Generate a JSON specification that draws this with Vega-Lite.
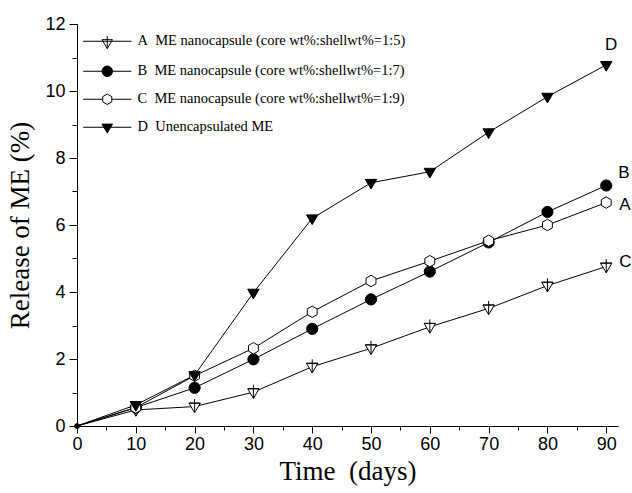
{
  "$schema": "https://vega.github.io/schema/vega-lite/v6.json",
  "width": 541,
  "height": 402,
  "autosize": "none",
  "padding": {"left": 77, "top": 24, "right": 14, "bottom": 67},
  "background": "white",
  "config": {"view": {"stroke": null}},
  "data": {"values": [
    {"series": "A", "day": 0, "value": 0},
    {"series": "A", "day": 10, "value": 0.48},
    {"series": "A", "day": 20, "value": 0.58},
    {"series": "A", "day": 30, "value": 1.01},
    {"series": "A", "day": 40, "value": 1.77},
    {"series": "A", "day": 50, "value": 2.32},
    {"series": "A", "day": 60, "value": 2.96},
    {"series": "A", "day": 70, "value": 3.51},
    {"series": "A", "day": 80, "value": 4.19},
    {"series": "A", "day": 90, "value": 4.76},
    {"series": "B", "day": 0, "value": 0},
    {"series": "B", "day": 10, "value": 0.55},
    {"series": "B", "day": 20, "value": 1.14},
    {"series": "B", "day": 30, "value": 1.99},
    {"series": "B", "day": 40, "value": 2.9},
    {"series": "B", "day": 50, "value": 3.78},
    {"series": "B", "day": 60, "value": 4.61},
    {"series": "B", "day": 70, "value": 5.48},
    {"series": "B", "day": 80, "value": 6.39},
    {"series": "B", "day": 90, "value": 7.18},
    {"series": "C", "day": 0, "value": 0},
    {"series": "C", "day": 10, "value": 0.55},
    {"series": "C", "day": 20, "value": 1.5},
    {"series": "C", "day": 30, "value": 2.32},
    {"series": "C", "day": 40, "value": 3.41},
    {"series": "C", "day": 50, "value": 4.33},
    {"series": "C", "day": 60, "value": 4.92},
    {"series": "C", "day": 70, "value": 5.53},
    {"series": "C", "day": 80, "value": 6.0},
    {"series": "C", "day": 90, "value": 6.67},
    {"series": "D", "day": 0, "value": 0},
    {"series": "D", "day": 10, "value": 0.63},
    {"series": "D", "day": 20, "value": 1.52},
    {"series": "D", "day": 30, "value": 3.98},
    {"series": "D", "day": 40, "value": 6.2},
    {"series": "D", "day": 50, "value": 7.26},
    {"series": "D", "day": 60, "value": 7.59},
    {"series": "D", "day": 70, "value": 8.77},
    {"series": "D", "day": 80, "value": 9.83},
    {"series": "D", "day": 90, "value": 10.78}
  ]},
  "encoding": {
    "x": {
      "field": "day", "type": "quantitative",
      "scale": {"domain": [0, 92], "nice": false, "zero": false},
      "axis": {
        "title": "Time\u00a0 (days)",
        "titleFont": "Liberation Serif", "titleFontSize": 27, "titleFontWeight": "normal", "titleColor": "black", "titlePadding": 5,
        "values": [0,5,10,15,20,25,30,35,40,45,50,55,60,65,70,75,80,85,90],
        "labelExpr": "datum.value % 10 === 0 ? datum.label : ''",
        "labelFont": "Liberation Sans", "labelFontSize": 18, "labelColor": "black", "labelPadding": 2, "labelFlush": false, "labelOverlap": false,
        "tickSize": {"condition": {"test": "datum.value % 10 === 0", "value": 7}, "value": 4},
        "tickColor": "black", "domainColor": "black", "grid": false
      }
    },
    "y": {
      "field": "value", "type": "quantitative",
      "scale": {"domain": [0, 12], "nice": false},
      "axis": {
        "title": "Release of ME (%)",
        "titleFont": "Liberation Serif", "titleFontSize": 27, "titleFontWeight": "normal", "titleColor": "black", "titlePadding": 10,
        "values": [0,1,2,3,4,5,6,7,8,9,10,11,12],
        "labelExpr": "datum.value % 2 === 0 ? datum.label : ''",
        "labelFont": "Liberation Sans", "labelFontSize": 18, "labelColor": "black", "labelPadding": 4, "labelFlush": false, "labelOverlap": false,
        "tickSize": {"condition": {"test": "datum.value % 2 === 0", "value": 8}, "value": 5},
        "tickColor": "black", "domainColor": "black", "grid": false
      }
    }
  },
  "layer": [
    {
      "mark": {"type": "line", "color": "black", "strokeWidth": 1},
      "encoding": {"detail": {"field": "series"}}
    },
    {
      "transform": [{"filter": "datum.day === 0"}],
      "mark": {"type": "circle", "color": "black", "size": 25, "opacity": 1}
    },
    {
      "transform": [{"filter": "datum.day > 0 && datum.series === 'A'"}],
      "mark": {"type": "point", "shape": "M-1,-0.6L1,-0.6L0,1.1Z M0,1.1V-1.3 M-1,-0.6H1", "filled": true, "fill": "white", "stroke": "black", "strokeWidth": 1, "size": 130, "opacity": 1}
    },
    {
      "transform": [{"filter": "datum.day > 0 && datum.series === 'B'"}],
      "mark": {"type": "point", "shape": "circle", "filled": true, "fill": "black", "stroke": "black", "strokeWidth": 1, "size": 125, "opacity": 1}
    },
    {
      "transform": [{"filter": "datum.day > 0 && datum.series === 'C'"}],
      "mark": {"type": "point", "shape": "M0,-1L0.866,-0.5L0.866,0.5L0,1L-0.866,0.5L-0.866,-0.5Z", "filled": true, "fill": "white", "stroke": "black", "strokeWidth": 1, "size": 130, "opacity": 1}
    },
    {
      "transform": [{"filter": "datum.day > 0 && datum.series === 'D'"}],
      "mark": {"type": "point", "shape": "M-1,-0.6L1,-0.6L0,1.1Z", "filled": true, "fill": "black", "stroke": "black", "strokeWidth": 1, "size": 130, "opacity": 1}
    },
    {
      "transform": [{"filter": "false"}],
      "mark": {"type": "point", "filled": true, "strokeWidth": 1, "size": 110, "opacity": 1},
      "encoding": {
        "shape": {
          "field": "series", "type": "nominal",
          "scale": {
            "domain": ["A", "B", "C", "D"],
            "range": [
              "M-4.6,0H4.6 M-1,-0.3L1,-0.3L0,1.4Z M0,1.4V-1",
              "M-4.6,0H-1 A1,1 0 1,0 1,0 A1,1 0 1,0 -1,0 M1,0H4.6",
              "M-4.6,0H-0.866 M0.866,0H4.6 M0,-1L0.866,-0.5L0.866,0.5L0,1L-0.866,0.5L-0.866,-0.5Z",
              "M-4.6,0H4.6 M-1,-0.6L1,-0.6L0,1.1Z"
            ]
          },
          "legend": {
            "orient": "none", "legendX": 23, "legendY": 10,
            "title": null, "padding": 0, "rowPadding": 12,
            "symbolSize": 110, "symbolStrokeWidth": 1, "symbolOpacity": 1,
            "labelFont": "Liberation Serif", "labelFontSize": 14.5, "labelColor": "black", "labelOffset": 23, "labelLimit": 500,
            "labelExpr": "datum.value === 'A' ? 'A\u00a0 ME nanocapsule (core wt%:shellwt%=1:5)' : datum.value === 'B' ? 'B\u00a0 ME nanocapsule (core wt%:shellwt%=1:7)' : datum.value === 'C' ? 'C\u00a0 ME nanocapsule (core wt%:shellwt%=1:9)' : 'D\u00a0 Unencapsulated ME'"
          }
        },
        "fill": {
          "field": "series", "type": "nominal",
          "scale": {"domain": ["A", "B", "C", "D"], "range": ["white", "black", "white", "black"]},
          "legend": null
        },
        "stroke": {
          "field": "series", "type": "nominal",
          "scale": {"domain": ["A", "B", "C", "D"], "range": ["black", "black", "black", "black"]},
          "legend": null
        }
      }
    },
    {
      "transform": [{"filter": "datum.day === 90 && datum.series === 'D'"}],
      "mark": {"type": "text", "text": "D", "font": "Liberation Sans", "fontSize": 17, "color": "black", "dx": 5, "dy": -20, "align": "center", "baseline": "middle"}
    },
    {
      "transform": [{"filter": "datum.day === 90 && datum.series === 'B'"}],
      "mark": {"type": "text", "text": "B", "font": "Liberation Sans", "fontSize": 17, "color": "black", "dx": 12, "dy": -12, "align": "left", "baseline": "middle"}
    },
    {
      "transform": [{"filter": "datum.day === 90 && datum.series === 'C'"}],
      "mark": {"type": "text", "text": "A", "font": "Liberation Sans", "fontSize": 17, "color": "black", "dx": 13, "dy": 2, "align": "left", "baseline": "middle"}
    },
    {
      "transform": [{"filter": "datum.day === 90 && datum.series === 'A'"}],
      "mark": {"type": "text", "text": "C", "font": "Liberation Sans", "fontSize": 17, "color": "black", "dx": 13, "dy": -5, "align": "left", "baseline": "middle"}
    }
  ]
}
